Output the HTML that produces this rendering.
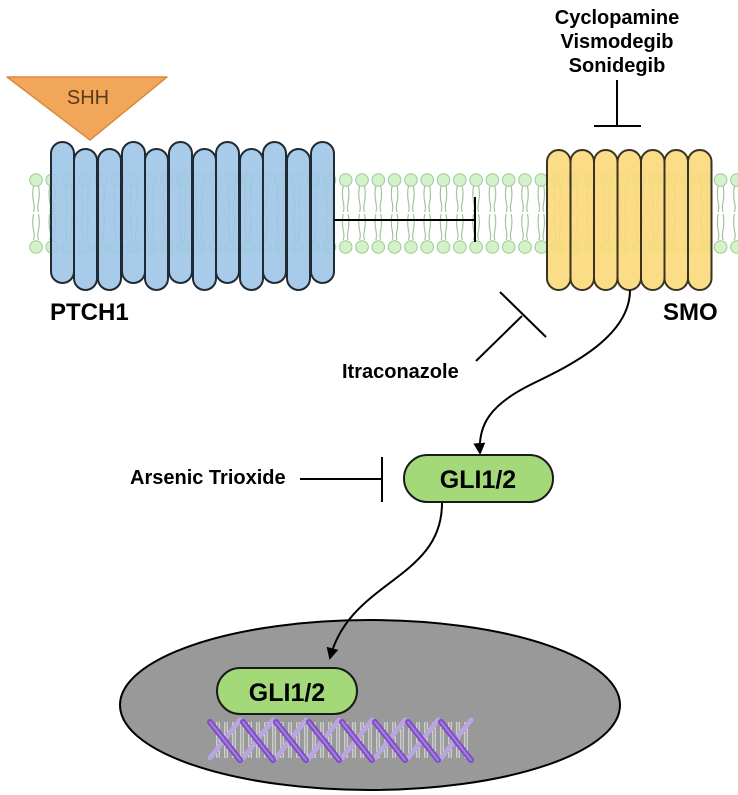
<!DOCTYPE html>
<html><head><meta charset="utf-8"><style>
html,body{margin:0;padding:0;background:#fff;}
svg{display:block;}
text{font-family:"Liberation Sans",sans-serif;}
</style></head><body>
<svg width="738" height="795" viewBox="0 0 738 795" xmlns="http://www.w3.org/2000/svg">
<defs>
<pattern id="lip" x="28" y="170" width="16.3" height="85" patternUnits="userSpaceOnUse">
<g stroke="#8fb88a" stroke-width="1" fill="none">
<path d="M5.5 16 Q4 24 5.5 32 Q7 38 5.5 42"/>
<path d="M10.5 16 Q12 24 10.5 32 Q9 38 10.5 42"/>
<path d="M5.5 44 Q4 52 5.5 60 Q7 66 5.5 70"/>
<path d="M10.5 44 Q12 52 10.5 60 Q9 66 10.5 70"/>
</g>
<circle cx="8" cy="10" r="6.3" fill="#d4f2c8" stroke="#9fc597" stroke-width="1"/>
<circle cx="8" cy="77" r="6.3" fill="#d4f2c8" stroke="#9fc597" stroke-width="1"/>
</pattern>
<marker id="ar" markerWidth="12" markerHeight="12" refX="10" refY="6" orient="auto" markerUnits="userSpaceOnUse">
<path d="M0 0 L12 6 L0 12 Z" fill="#000"/>
</marker>
</defs>
<rect x="28" y="170" width="710" height="85" fill="url(#lip)"/>

<!-- SHH -->
<polygon points="7,77 167,77 90,140" fill="#f2a65a" stroke="#d88b40" stroke-width="1.5" stroke-linejoin="round"/>
<text x="88" y="104" font-size="20" fill="#5a3a1a" text-anchor="middle">SHH</text>

<!-- PTCH1 -->
<g fill="#9fc5e8" fill-opacity="0.9" stroke="#1f2a33" stroke-width="2">
<rect x="51" y="142" width="23" height="141" rx="11.5"/>
<rect x="74" y="149" width="23" height="141" rx="11.5"/>
<rect x="98" y="149" width="23" height="141" rx="11.5"/>
<rect x="122" y="142" width="23" height="141" rx="11.5"/>
<rect x="145" y="149" width="23" height="141" rx="11.5"/>
<rect x="169" y="142" width="23" height="141" rx="11.5"/>
<rect x="193" y="149" width="23" height="141" rx="11.5"/>
<rect x="216" y="142" width="23" height="141" rx="11.5"/>
<rect x="240" y="149" width="23" height="141" rx="11.5"/>
<rect x="263" y="142" width="23" height="141" rx="11.5"/>
<rect x="287" y="149" width="23" height="141" rx="11.5"/>
<rect x="311" y="142" width="23" height="141" rx="11.5"/>
</g>
<text x="50" y="320" font-size="24" font-weight="bold">PTCH1</text>

<!-- SMO -->
<g fill="#fcd97a" fill-opacity="0.9" stroke="#3a3222" stroke-width="2">
<rect x="547" y="150" width="23.5" height="140" rx="11.7"/>
<rect x="570.5" y="150" width="23.5" height="140" rx="11.7"/>
<rect x="594" y="150" width="23.5" height="140" rx="11.7"/>
<rect x="617.5" y="150" width="23.5" height="140" rx="11.7"/>
<rect x="641" y="150" width="23.5" height="140" rx="11.7"/>
<rect x="664.5" y="150" width="23.5" height="140" rx="11.7"/>
<rect x="688" y="150" width="23.5" height="140" rx="11.7"/>
</g>
<text x="663" y="320" font-size="24" font-weight="bold">SMO</text>

<g stroke="#000" stroke-width="2" fill="none">
<line x1="334" y1="220" x2="475" y2="220"/>
<line x1="475" y1="197" x2="475" y2="242"/>
<line x1="617" y1="80" x2="617" y2="126"/>
<line x1="594" y1="126" x2="641" y2="126"/>
<line x1="476" y1="361" x2="522" y2="316"/>
<line x1="500" y1="292" x2="546" y2="337"/>
<line x1="300" y1="479" x2="382" y2="479"/>
<line x1="382" y1="457" x2="382" y2="502"/>
<path d="M630 290 C630 340 560 370 530 385 C490 405 478 425 480 453" marker-end="url(#ar)"/>
</g>
<text x="617" y="24" font-size="20" font-weight="bold" text-anchor="middle">Cyclopamine</text>
<text x="617" y="48" font-size="20" font-weight="bold" text-anchor="middle">Vismodegib</text>
<text x="617" y="72" font-size="20" font-weight="bold" text-anchor="middle">Sonidegib</text>
<text x="342" y="378" font-size="20" font-weight="bold">Itraconazole</text>
<text x="130" y="484" font-size="20" font-weight="bold">Arsenic Trioxide</text>

<rect x="404" y="455" width="149" height="47" rx="23.5" fill="#a4d97a" stroke="#1a1a1a" stroke-width="2"/>
<text x="478" y="488" font-size="25" font-weight="bold" text-anchor="middle">GLI1/2</text>

<ellipse cx="370" cy="705" rx="250" ry="85" fill="#999" stroke="#000" stroke-width="2"/>
<path d="M442 503 C442 580 350 580 330 658" stroke="#000" stroke-width="2" fill="none" marker-end="url(#ar)"/>
<rect x="217" y="668" width="140" height="46" rx="23" fill="#a4d97a" stroke="#1a1a1a" stroke-width="2"/>
<text x="287" y="701" font-size="25" font-weight="bold" text-anchor="middle">GLI1/2</text>

<g>
<g stroke="#fff" stroke-width="3">
<path d="M218 722 V758 M226 722 V758 M234 722 V758 M242 722 V758 M250 722 V758 M258 722 V758 M266 722 V758 M274 722 V758 M282 722 V758 M290 722 V758 M298 722 V758 M306 722 V758 M314 722 V758 M322 722 V758 M330 722 V758 M338 722 V758 M346 722 V758 M354 722 V758 M362 722 V758 M370 722 V758 M378 722 V758 M386 722 V758 M394 722 V758 M402 722 V758 M410 722 V758 M418 722 V758 M426 722 V758 M434 722 V758 M442 722 V758 M450 722 V758 M458 722 V758 M466 722 V758"/>
</g>
<g stroke="#333" stroke-width="0.8">
<path d="M218 722 V758 M226 722 V758 M234 722 V758 M242 722 V758 M250 722 V758 M258 722 V758 M266 722 V758 M274 722 V758 M282 722 V758 M290 722 V758 M298 722 V758 M306 722 V758 M314 722 V758 M322 722 V758 M330 722 V758 M338 722 V758 M346 722 V758 M354 722 V758 M362 722 V758 M370 722 V758 M378 722 V758 M386 722 V758 M394 722 V758 M402 722 V758 M410 722 V758 M418 722 V758 M426 722 V758 M434 722 V758 M442 722 V758 M450 722 V758 M458 722 V758 M466 722 V758"/>
</g>
<g fill="none" stroke-linecap="round">
<path d="M210 758 L240 720 M243 758 L273 720 M276 758 L306 720 M309 758 L339 720 M342 758 L372 720 M375 758 L405 720 M408 758 L438 720 M441 758 L471 720" stroke="#b9a6e0" stroke-width="5"/>
<path d="M210 722 L240 760 M243 722 L273 760 M276 722 L306 760 M309 722 L339 760 M342 722 L372 760 M375 722 L405 760 M408 722 L438 760 M441 722 L471 760" stroke="#7f4fc4" stroke-width="6"/>
<path d="M210 722 L240 760 M243 722 L273 760 M276 722 L306 760 M309 722 L339 760 M342 722 L372 760 M375 722 L405 760 M408 722 L438 760 M441 722 L471 760" stroke="#a57ee0" stroke-width="2"/>
</g>
</g>
</svg>
</body></html>
